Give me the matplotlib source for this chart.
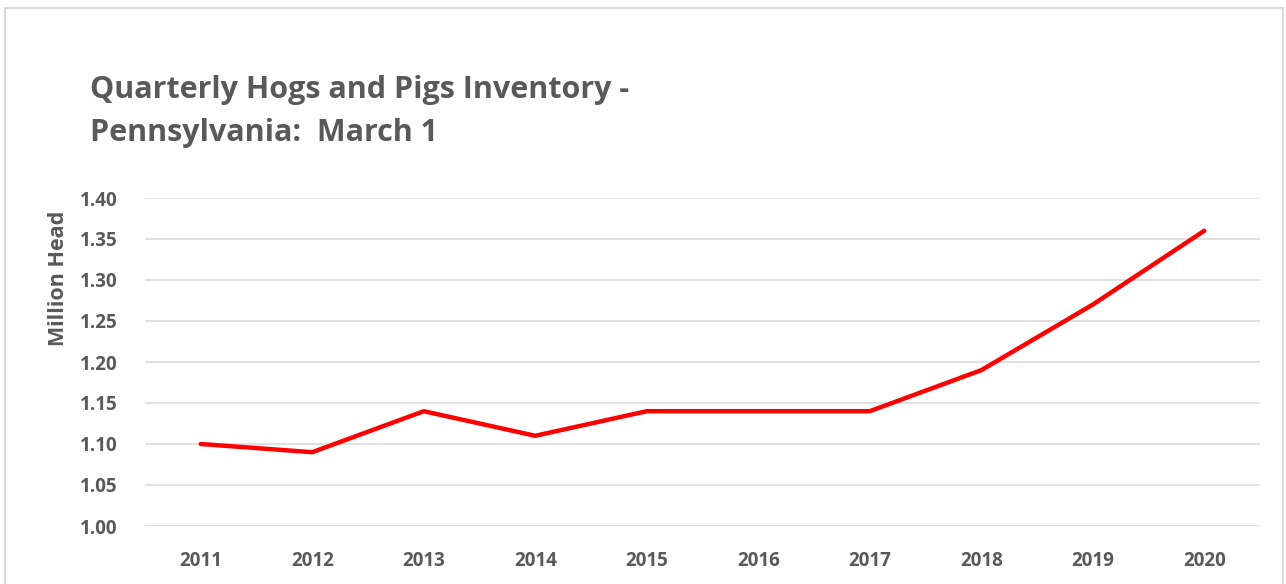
import matplotlib.pyplot as plt
from matplotlib.patches import Rectangle

## Data
years = ["2011", "2012", "2013", "2014", "2015", "2016", "2017", "2018", "2019", "2020"]
head_million = [1.10, 1.09, 1.14, 1.11, 1.14, 1.14, 1.14, 1.19, 1.27, 1.36]
y_ticks = [1.00, 1.05, 1.10, 1.15, 1.20, 1.25, 1.30, 1.35, 1.40]

plt.rcParams['font.family'] = ['Open Sans', 'DejaVu Sans']
grey = '#595959'

fig = plt.figure(figsize=(12.86, 5.84), dpi=100)

## chart border
fig.patches.append(Rectangle((5 / 1286, -0.05), 1278 / 1286, 1.05 - 8 / 584,
                             transform=fig.transFigure, fill=False,
                             edgecolor='#d9d9d9', linewidth=1.5))

ax = fig.add_axes([145 / 1286, 1 - 526 / 584, 1115 / 1286, 328 / 584])
x = range(len(years))
ax.plot(x, head_million, color='#ff0000', linewidth=3.2, solid_capstyle='round')

ax.set_xlim(-0.5, len(years) - 0.5)
ax.set_ylim(1.0, 1.4)
ax.set_yticks(y_ticks)
ax.set_yticklabels(['%.2f' % v for v in y_ticks])
ax.set_xticks(list(x))
ax.set_xticklabels(years)
ax.tick_params(length=0, labelsize=13.5, labelcolor=grey)
ax.tick_params(axis='y', pad=20)
ax.tick_params(axis='x', pad=18)
for lab in ax.get_xticklabels() + ax.get_yticklabels():
    lab.set_fontweight('bold')

ax.grid(axis='y', color='#d9d9d9', linewidth=1.1)
ax.set_axisbelow(True)
for s in ax.spines.values():
    s.set_visible(False)

fig.text(58 / 1286, 1 - 278 / 584, 'Million Head', rotation=90, ha='center', va='center',
         fontsize=15.5, fontweight='bold', color=grey)

fig.text(90 / 1286, 1 - 90 / 584, 'Quarterly Hogs and Pigs Inventory -',
         ha='left', va='center', fontsize=22, fontweight='bold', color=grey)
fig.text(90 / 1286, 1 - 133 / 584, 'Pennsylvania:  March 1',
         ha='left', va='center', fontsize=22, fontweight='bold', color=grey)

fig.savefig('out.png', dpi=100)
